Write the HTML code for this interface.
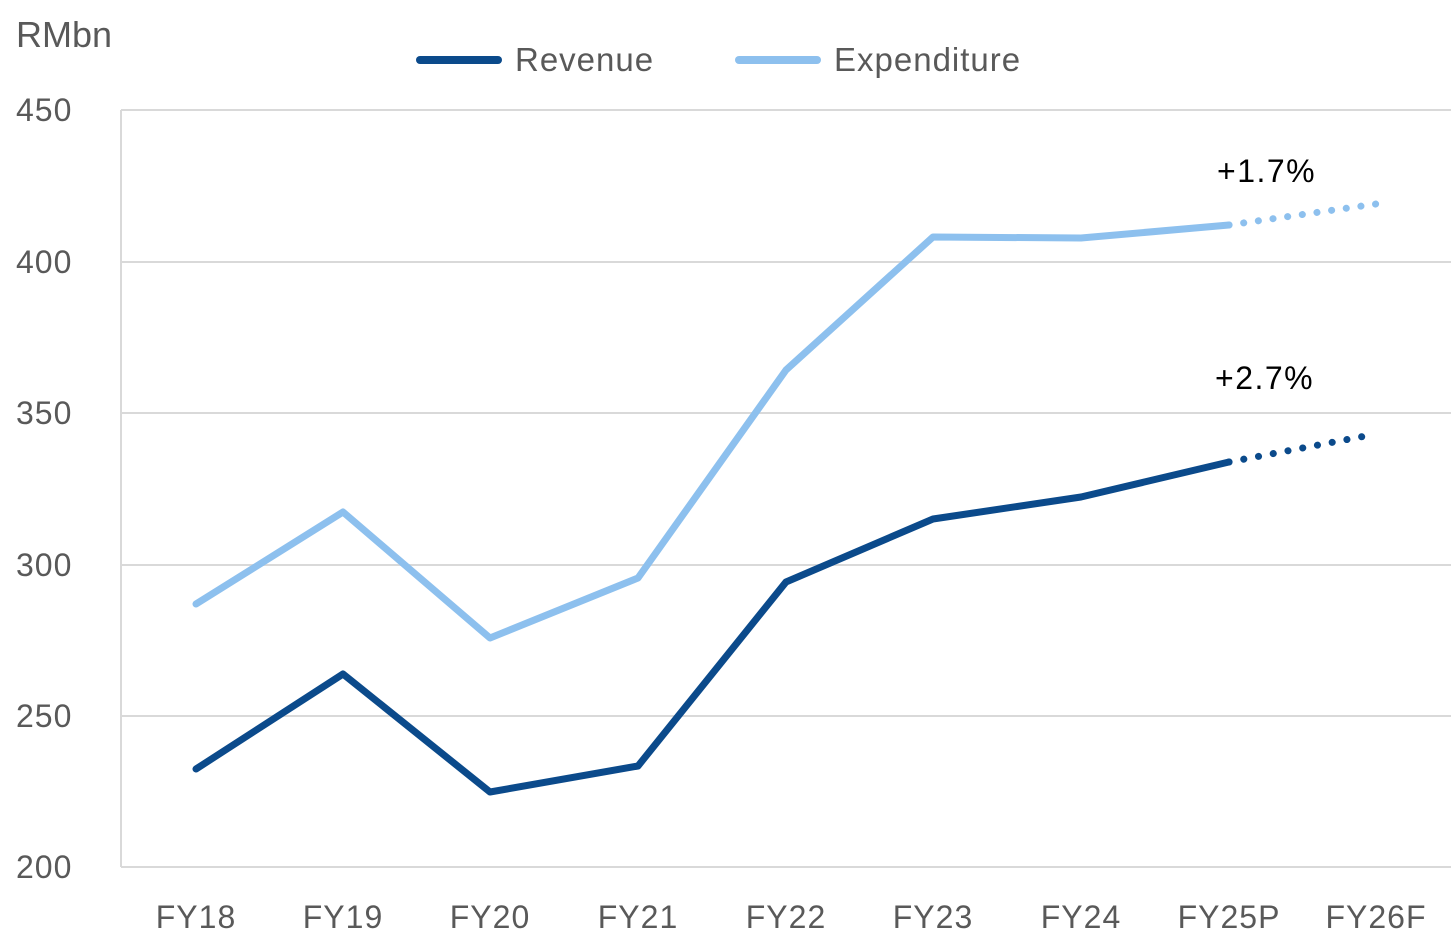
<!DOCTYPE html>
<html><head><meta charset="utf-8"><style>
html,body{margin:0;padding:0;background:#fff;}
svg{display:block;font-family:"Liberation Sans",sans-serif;}
</style></head><body>
<svg width="1451" height="946" viewBox="0 0 1451 946" xmlns="http://www.w3.org/2000/svg">
<g stroke="#d9d9d9" stroke-width="2">
<line x1="121" y1="110" x2="1451" y2="110"/>
<line x1="121" y1="262" x2="1451" y2="262"/>
<line x1="121" y1="413" x2="1451" y2="413"/>
<line x1="121" y1="565" x2="1451" y2="565"/>
<line x1="121" y1="716" x2="1451" y2="716"/>
<line x1="121" y1="867" x2="1451" y2="867"/>
<line x1="121" y1="110" x2="121" y2="867"/>
</g>
<g fill="#595959" font-size="32" letter-spacing="1">
<text x="16" y="47" font-size="36" letter-spacing="0">RMbn</text>
<text x="16" y="121">450</text>
<text x="16" y="273">400</text>
<text x="16" y="424">350</text>
<text x="16" y="576">300</text>
<text x="16" y="727">250</text>
<text x="16" y="878">200</text>
<g text-anchor="middle">
<text x="196" y="928">FY18</text>
<text x="343" y="928">FY19</text>
<text x="490" y="928">FY20</text>
<text x="638" y="928">FY21</text>
<text x="786" y="928">FY22</text>
<text x="933" y="928">FY23</text>
<text x="1081" y="928">FY24</text>
<text x="1229" y="928">FY25P</text>
<text x="1376" y="928">FY26F</text>
</g>
<text x="515" y="71" font-size="33">Revenue</text>
<text x="834" y="71" font-size="33">Expenditure</text>
</g>
<line x1="420" y1="60" x2="498" y2="60" stroke="#0b4a8b" stroke-width="8" stroke-linecap="round"/>
<line x1="739" y1="60" x2="817" y2="60" stroke="#8dc0ee" stroke-width="8" stroke-linecap="round"/>
<polyline fill="none" stroke="#8dc0ee" stroke-width="7" stroke-linejoin="round" stroke-linecap="round"
points="196,604 343,512 490,638 638,578 786,370 933,237 1081,238 1229,225"/>
<line x1="1229" y1="225" x2="1376" y2="204" stroke="#8dc0ee" stroke-width="7" stroke-linecap="round" stroke-dasharray="0.1 14.7"/>
<polyline fill="none" stroke="#0b4a8b" stroke-width="7" stroke-linejoin="round" stroke-linecap="round"
points="196,769 343,674 490,792 638,766 786,582 933,519 1081,497 1229,462"/>
<line x1="1229" y1="462" x2="1376" y2="434" stroke="#0b4a8b" stroke-width="7" stroke-linecap="round" stroke-dasharray="0.1 14.9"/>
<g fill="#000" font-size="32" letter-spacing="1.5">
<text x="1217" y="182">+1.7%</text>
<text x="1215" y="389">+2.7%</text>
</g>
</svg>
</body></html>
